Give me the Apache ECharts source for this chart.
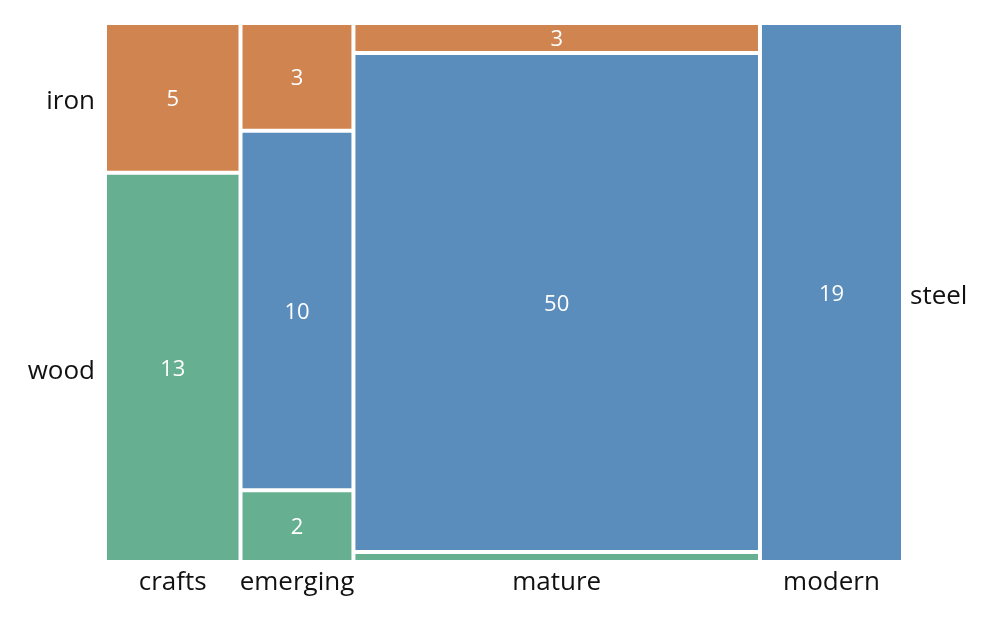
<!DOCTYPE html>
<html>
<head>
<meta charset="utf-8">
<script src="https://cdn.jsdelivr.net/npm/echarts@6/dist/echarts.min.js"></script>
<style>html,body{margin:0;padding:0;background:#fff;}#c{width:1002px;height:626px;}</style>
</head>
<body>
<div id="c"></div>
<script>
const categories = ['crafts', 'emerging', 'mature', 'modern'];
const materials = ['wood', 'steel', 'iron']; // bottom to top
const iron  = [5, 3, 3, 0];
const steel = [0, 10, 50, 19];
const wood  = [13, 2, 1, 0];
const colors = { iron: '#D0844F', steel: '#5A8DBC', wood: '#66AF91' };

const values = { iron, steel, wood };
const totals = categories.map((c, i) => iron[i] + steel[i] + wood[i]);
const grand = totals.reduce((a, b) => a + b, 0);
const xStart = [];
let acc = 0;
totals.forEach(t => { xStart.push(acc); acc += t; });

function yBounds(mat, i) {
  let lo = 0;
  for (const m of materials) {
    if (m === mat) break;
    lo += values[m][i];
  }
  return [lo / totals[i], (lo + values[mat][i]) / totals[i]];
}

const xLabelVals = categories.map((c, i) => xStart[i] + totals[i] / 2);
const leftLabels = [
  { name: 'iron', v: (yBounds('iron', 0)[0] + yBounds('iron', 0)[1]) / 2 },
  { name: 'wood', v: (yBounds('wood', 0)[0] + yBounds('wood', 0)[1]) / 2 }
];
const rightLabels = [
  { name: 'steel', v: (yBounds('steel', 3)[0] + yBounds('steel', 3)[1]) / 2 }
];
function nearestName(list, v) {
  let best = list[0], d = Infinity;
  list.forEach(o => { const dd = Math.abs(o.v - v); if (dd < d) { d = dd; best = o; } });
  return best.name;
}
const xList = categories.map((c, i) => ({ name: c, v: xLabelVals[i] }));

const gap = 2;
const series = materials.map(mat => ({
  type: 'custom',
  name: mat,
  data: categories.map((c, i) => [i, values[mat][i]]),
  renderItem: function (params, api) {
    const i = api.value(0);
    const v = api.value(1);
    if (!v) return null;
    const yb = yBounds(mat, i);
    const p0 = api.coord([xStart[i], yb[1]]);
    const p1 = api.coord([xStart[i] + totals[i], yb[0]]);
    const x = p0[0] + gap, y = p0[1] + gap;
    const w = p1[0] - p0[0] - 2 * gap, h = p1[1] - p0[1] - 2 * gap;
    return {
      type: 'rect',
      shape: { x: x, y: y, width: w, height: h },
      style: { fill: colors[mat] },
      textContent: h > 14 ? {
        style: { text: String(v), fill: '#fff', fontSize: 22, fontFamily: 'Open Sans' }
      } : undefined,
      textConfig: { position: 'inside', offset: [0, 2] }
    };
  }
}));

const richLbl = { a: { color: '#111', fontSize: 26, fontFamily: 'Open Sans', padding: [8, 0, 0, 0] } };
const chart = echarts.init(document.getElementById('c'), null, { renderer: 'canvas' });
chart.setOption({
  animation: false,
  backgroundColor: '#fff',
  grid: { left: 105, right: 99, top: 23, bottom: 64 },
  xAxis: {
    type: 'value', min: 0, max: grand,
    axisLine: { show: false }, axisTick: { show: false }, splitLine: { show: false },
    axisLabel: {
      customValues: xLabelVals,
      formatter: v => nearestName(xList, v),
      margin: 8, color: '#111', fontSize: 26, fontFamily: 'Open Sans'
    }
  },
  yAxis: [
    {
      type: 'value', min: 0, max: 1, position: 'left',
      axisLine: { show: false }, axisTick: { show: false }, splitLine: { show: false },
      axisLabel: {
        customValues: leftLabels.map(o => o.v),
        formatter: v => '{a|' + nearestName(leftLabels, v) + '}',
        margin: 10, rich: richLbl
      }
    },
    {
      type: 'value', min: 0, max: 1, position: 'right',
      axisLine: { show: false }, axisTick: { show: false }, splitLine: { show: false },
      axisLabel: {
        customValues: rightLabels.map(o => o.v),
        formatter: v => '{a|' + nearestName(rightLabels, v) + '}',
        margin: 7, rich: richLbl
      }
    }
  ],
  series: series
});
</script>
</body>
</html>
